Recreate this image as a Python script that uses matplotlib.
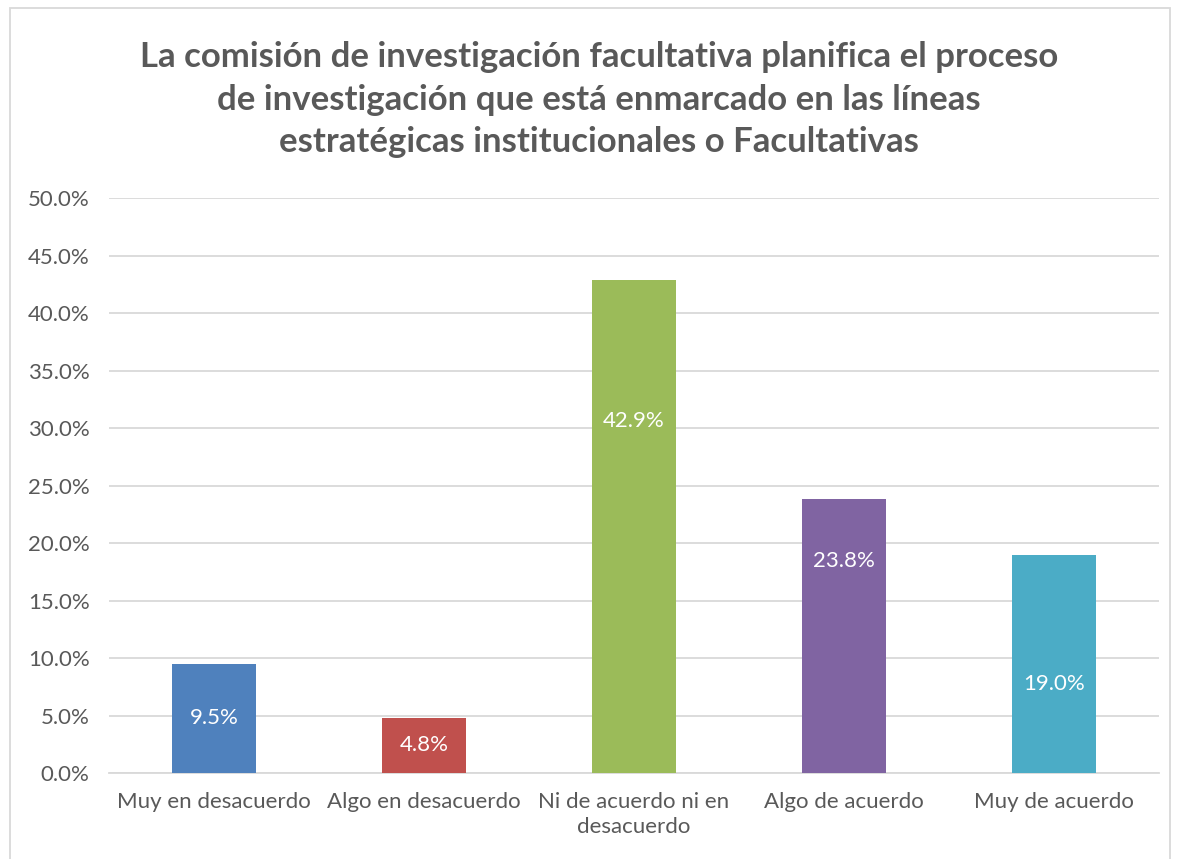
import matplotlib.pyplot as plt
import numpy as np

categories = ["Muy en desacuerdo", "Algo en desacuerdo", "Ni de acuerdo ni en\ndesacuerdo",
              "Algo de acuerdo", "Muy de acuerdo"]
values = [9.5, 4.8, 42.9, 23.8, 19.0]
colors = ["#4F81BD", "#C0504D", "#9BBB59", "#8064A2", "#4BACC6"]
# label heights (manually placed in the original)
label_y = [4.8, 2.4, 30.6, 18.4, 7.7]

title = ("La comisión de investigación facultativa planifica el proceso\n"
         "de investigación que está enmarcado en las líneas\n"
         "estratégicas institucionales o Facultativas")

plt.rcParams['font.family'] = ['Lato', 'DejaVu Sans']
text_color = "#595959"

fig = plt.figure(figsize=(11.77, 8.59), dpi=100)
ax = fig.add_axes([0.0926, 0.1001, 0.8921, 0.6694])

x = np.arange(len(categories))
ax.bar(x, values, width=0.4, color=colors, zorder=3)
for xi, v, ly in zip(x, values, label_y):
    ax.text(xi, ly, f"{v:.1f}%", ha='center', va='center', color='white', fontsize=16, zorder=4)

ax.set_xlim(-0.5, len(categories) - 0.5)
ax.set_ylim(0, 50)
ax.set_yticks(np.arange(0, 50.1, 5))
ax.set_yticklabels([f"{t:.1f}%" for t in np.arange(0, 50.1, 5)])
ax.set_xticks(x)
ax.set_xticklabels(categories, linespacing=1.3)
ax.yaxis.grid(True, color="#D9D9D9", linewidth=1.3, zorder=0)
ax.tick_params(axis='both', length=0, labelsize=16, colors=text_color)
ax.tick_params(axis='y', pad=14)
ax.tick_params(axis='x', pad=14)
for s in ['top', 'right', 'left']:
    ax.spines[s].set_visible(False)
ax.spines['bottom'].set_color("#D9D9D9")
ax.spines['bottom'].set_linewidth(1.3)

fig.text(0.509, 0.884, title, ha='center', va='center', fontsize=25, fontweight='bold',
         color=text_color, linespacing=1.4)

# chart border
fig.patches.append(plt.Rectangle((10 / 1177, -0.01), 1160 / 1177, 1 - 8 / 859 + 0.01,
                                 transform=fig.transFigure, fill=False,
                                 edgecolor="#D9D9D9", linewidth=1.3))

fig.savefig("out.png", dpi=100)
